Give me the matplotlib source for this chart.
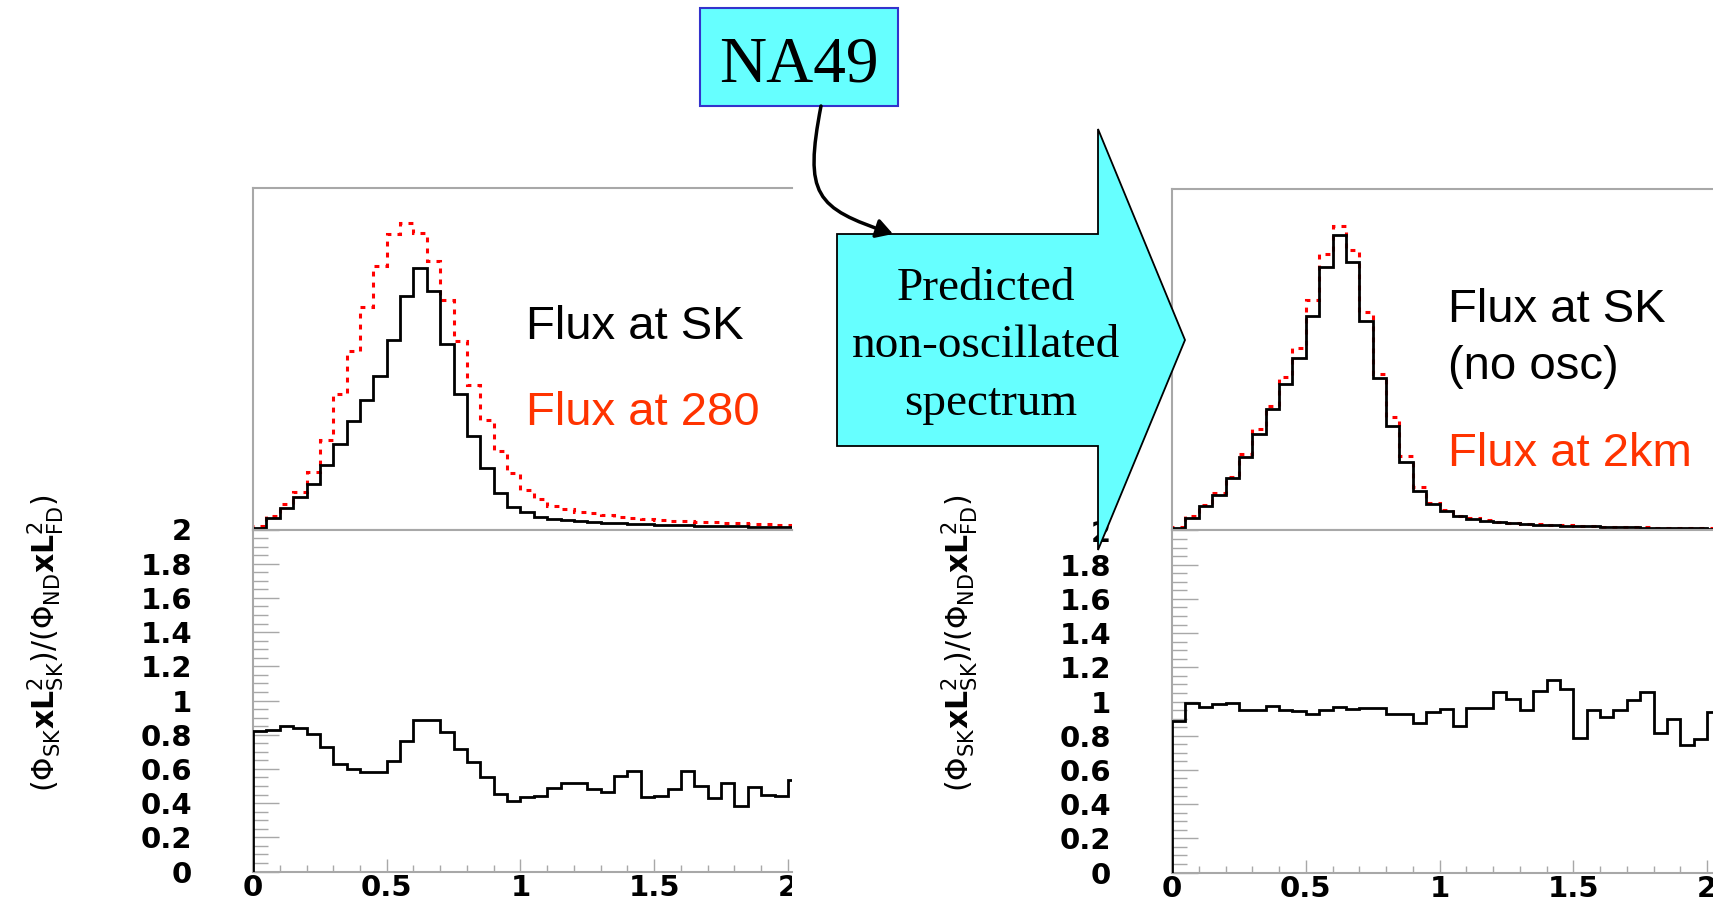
#Importing the libraries
import numpy as np
import matplotlib
matplotlib.use('Agg')
import matplotlib.pyplot as plt
from matplotlib.patches import Polygon, Rectangle, FancyArrowPatch
from matplotlib.path import Path
from matplotlib.transforms import Bbox, TransformedBbox
from matplotlib.ticker import MultipleLocator

plt.rcParams['font.family'] = ['DejaVu Sans']

#Binning (GeV), 0.05 wide bins
bin_edges = np.round(np.arange(0, 2.0501, 0.05), 3)

#Top panels: flux shapes (arbitrary units)
flux_sk_left = [1, 11, 21, 32, 45, 64, 85, 108, 129, 153, 189, 233, 261, 238, 185, 135, 93, 61,
                36, 22, 17, 12, 10.5, 9, 8, 7.2, 6.5, 6, 5.5, 5, 4.6, 4.3, 4, 3.7, 3.4, 3.2,
                3, 2.8, 2.6, 2.4, 2.3]
flux_280 = [3, 13, 25, 37, 57, 89, 135, 178, 222, 263, 295, 306, 296, 268, 229, 188, 144, 109,
            78, 56, 39, 30, 23, 20, 17, 16, 14, 12.5, 11.5, 10.5, 9.5, 8.5, 8, 7.5, 7, 6.5,
            6, 5.5, 5, 4.7, 4.5]
flux_sk_right = [2, 12, 24, 35, 52, 73, 96, 121, 146, 172, 214, 263, 295, 268, 209, 152, 104, 68,
                 39, 26, 19, 14, 11.5, 9.5, 8.3, 7.2, 6.4, 5.8, 5.3, 4.8, 4.3, 4, 3.7, 3.4, 3.1,
                 2.9, 2.7, 2.4, 2.2, 2.0, 1.9]
flux_2km = [3, 14, 25, 37, 53, 76, 101, 124, 153, 182, 230, 276, 304, 280, 218, 156, 113, 74,
            43, 27, 20, 14.5, 12, 10, 8.7, 7.6, 6.8, 6.1, 5.6, 5.1, 4.6, 4.2, 3.9, 3.6, 3.3,
            3.1, 2.9, 2.6, 2.4, 2.2, 2.1]

#Bottom panels: far/near ratio
ratio_left = [0.820, 0.825, 0.849, 0.839, 0.804, 0.728, 0.630, 0.599, 0.583, 0.583, 0.644,
              0.761, 0.884, 0.888, 0.816, 0.716, 0.638, 0.550, 0.453, 0.410, 0.435, 0.443,
              0.488, 0.517, 0.517, 0.482, 0.462, 0.556, 0.585, 0.435, 0.443, 0.482, 0.585,
              0.498, 0.429, 0.517, 0.384, 0.492, 0.449, 0.439, 0.537]
ratio_right = [0.884, 0.991, 0.968, 0.985, 0.991, 0.952, 0.948, 0.972, 0.952, 0.942, 0.927,
               0.948, 0.968, 0.956, 0.960, 0.962, 0.929, 0.927, 0.874, 0.937, 0.956, 0.859,
               0.960, 0.960, 1.056, 1.015, 0.948, 1.063, 1.128, 1.073, 0.784, 0.948, 0.910,
               0.948, 1.011, 1.056, 0.816, 0.900, 0.747, 0.782, 0.940]

x_ticks = [0, 0.5, 1, 1.5, 2]
x_tick_labels = ['0', '0.5', '1', '1.5', '2']
y_ticks = [0, 0.2, 0.4, 0.6, 0.8, 1, 1.2, 1.4, 1.6, 1.8, 2]
y_tick_labels = ['0', '0.2', '0.4', '0.6', '0.8', '1', '1.2', '1.4', '1.6', '1.8', '2']

ylabel = r'$(\Phi_{\mathrm{SK}}\mathbf{xL}_{\mathrm{SK}}^{2})/(\Phi_{\mathrm{ND}}\mathbf{xL}_{\mathrm{FD}}^{2})$'

W, H = 1713, 905
fig = plt.figure(figsize=(W / 100, H / 100), dpi=100)
fig.patch.set_facecolor('white')
gray = '#a8a8a8'
red_text = '#ff3300'
px_per_unit = 267.5


def px_rect(x0, y0, x1, y1):
    return [x0 / W, 1 - y1 / H, (x1 - x0) / W, (y1 - y0) / H]


def top_panel(rect, sk, nd, xmax):
    ax = fig.add_axes(rect)
    ax.stairs(nd, bin_edges, baseline=0, color='#ff0000', lw=2.2, ls=(0, (1.6, 2.0)))
    ax.stairs(sk, bin_edges, baseline=0, color='black', lw=2.0)
    ax.set_xlim(0, xmax)
    ax.set_ylim(0, 341)
    ax.set_xticks([])
    ax.set_yticks([])
    for s in ['left', 'top', 'bottom']:
        ax.spines[s].set_color(gray)
        ax.spines[s].set_linewidth(1.5)
    ax.spines['right'].set_visible(False)
    return ax


def ratio_panel(rect, ratio, xmax):
    ax = fig.add_axes(rect)
    ax.stairs(ratio, bin_edges, baseline=0, color='black', lw=2.0, zorder=3)
    ax.set_xlim(0, xmax)
    ax.set_ylim(0, 2)
    ax.set_xticks(x_ticks, x_tick_labels, fontsize=21, fontweight='bold')
    ax.set_yticks(y_ticks, y_tick_labels, fontsize=21, fontweight='bold')
    ax.xaxis.set_minor_locator(MultipleLocator(0.1))
    ax.yaxis.set_minor_locator(MultipleLocator(0.05))
    ax.tick_params(axis='both', which='both', direction='in', colors=gray, labelcolor='black')
    ax.tick_params(axis='x', which='major', length=9.5, width=1, pad=2)
    ax.tick_params(axis='x', which='minor', length=5, width=1)
    ax.tick_params(axis='y', which='major', length=19, width=1, pad=44)
    ax.tick_params(axis='y', which='minor', length=10.5, width=1)
    for s in ['left', 'top', 'bottom']:
        ax.spines[s].set_color(gray)
        ax.spines[s].set_linewidth(1.5)
    ax.spines['right'].set_visible(False)
    return ax


#Left pair (ND at 280 m)
xmax_l = (792 - 253) / px_per_unit
top_panel(px_rect(253, 188, 792, 529.5), flux_sk_left, flux_280, xmax_l)
axl = ratio_panel(px_rect(253, 529.5, 792, 871.5), ratio_left, xmax_l)
clip = TransformedBbox(Bbox.from_extents(0, 0, 792 / W, 1), fig.transFigure)
for lab in axl.get_xticklabels():
    lab.set_clip_box(clip)
    lab.set_clip_on(True)

#Right pair (2 km detector)
xmax_r = (1713 - 1172) / px_per_unit
top_panel(px_rect(1172, 189.5, 1713, 530.5), flux_sk_right, flux_2km, xmax_r)
ratio_panel(px_rect(1172, 530.5, 1713, 872.5), ratio_right, xmax_r)

#Overlay in pixel coordinates for the slide annotations
ov = fig.add_axes([0, 0, 1, 1], zorder=10)
ov.set_xlim(0, W)
ov.set_ylim(H, 0)
ov.axis('off')

ov.text(526, 339, 'Flux at SK', family='Liberation Sans', size=34, color='black', va='baseline')
ov.text(526, 425, 'Flux at 280', family='Liberation Sans', size=34, color=red_text, va='baseline')
ov.text(1448, 322, 'Flux at SK', family='Liberation Sans', size=34, color='black', va='baseline')
ov.text(1448, 379, '(no osc)', family='Liberation Sans', size=34, color='black', va='baseline')
ov.text(1448, 466, 'Flux at 2km', family='Liberation Sans', size=34, color=red_text, va='baseline')

ov.text(46, 643, ylabel, size=21.5, rotation=90, ha='center', va='center')
ov.text(960, 643, ylabel, size=21.5, rotation=90, ha='center', va='center')

#Big block arrow
arrow_xy = [(837, 234), (1098, 234), (1098, 129), (1185, 340), (1098, 550), (1098, 446), (837, 446)]
ov.add_patch(Polygon(arrow_xy, closed=True, fc='#66ffff', ec='black', lw=1.3, zorder=2))
for txt, xx, yy in [('Predicted', 986, 300), ('non-oscillated', 986, 357), ('spectrum', 991, 415)]:
    ov.text(xx, yy, txt, family='Liberation Serif', size=34, ha='center', va='baseline', zorder=3)

#NA49 box and curved connector
ov.add_patch(Rectangle((700, 8), 198, 98, fc='#66ffff', ec='#3333cc', lw=1.5, zorder=2))
ov.text(799, 82, 'NA49', family='Liberation Serif', size=47, ha='center', va='baseline', zorder=3)
conn = Path([(821, 106), (804, 195), (815, 208), (893, 234)],
            [Path.MOVETO, Path.CURVE4, Path.CURVE4, Path.CURVE4])
ov.add_patch(FancyArrowPatch(path=conn, arrowstyle='-|>,head_length=0.55,head_width=0.32',
                             mutation_scale=18, lw=2.5, color='black', zorder=4))

fig.savefig('out.png', dpi=100)
